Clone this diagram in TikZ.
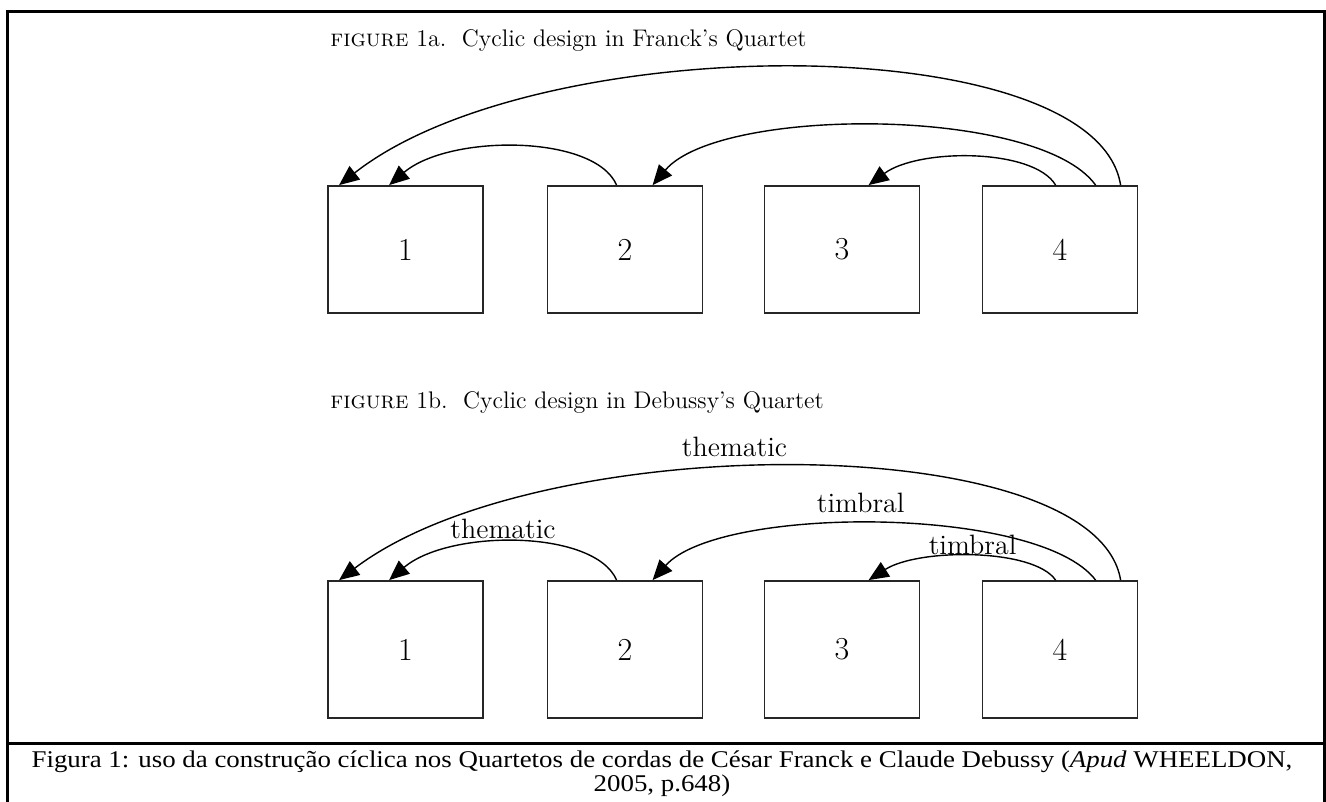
\documentclass[tikz,border=0pt]{standalone}
\usepackage{fontspec}
\newfontfamily\capfont[FakeStretch=1.12]{Liberation Serif}
\usetikzlibrary{calc,arrows.meta}

\begin{document}
\begin{tikzpicture}[
            x=0.5pt, y=-0.5pt,
            movement/.style={fill=white, draw=black!85, line width=0.9pt, inner sep=0pt, minimum width=77.5pt, minimum height=63.5pt, font=\fontsize{16}{16}\selectfont},
            tallmovement/.style={movement, minimum height=68.5pt},
            cyclic/.style={line width=0.7pt, -{Triangle[length=10pt,width=8.5pt]}},
            heading/.style={draw=none, text=black, anchor=base west, inner sep=0pt, font=\fontsize{12}{14}\selectfont},
            label/.style={draw=none, text=black, inner sep=1pt, font=\fontsize{14}{16}\selectfont},
            frame/.style={line width=1.5pt},
        ]
            \useasboundingbox (0,0) rectangle (1326,802);
            %% frame
            \draw[frame] (7,802) -- (7,12) -- (1324,12) -- (1324,802);
            \draw[frame] (7,743) -- (1324,743);

            %% figure 1a
            \node[heading] at (330,47) (title-a) {\textsc{figure} 1a.\ \ Cyclic design in Franck's Quartet};
            \node[movement] at (405.5, 249.5) (a1) {1};
            \node[movement] at (625, 249.5) (a2) {2};
            \node[movement] at (842, 249.5) (a3) {3};
            \node[movement] at (1060, 249.5) (a4) {4};
            \draw[cyclic] ($(a4.north west) + (139, 0)$) .. controls +(-25, -157) and +(200, -157) .. ($(a1.north west) + (12, 0)$);
            \draw[cyclic] ($(a2.north west) + (70, 0)$) .. controls +(-22, -51) and +(60, -51) .. ($(a1.north west) + (62, 0)$);
            \draw[cyclic] ($(a4.north west) + (114, 0)$) .. controls +(-57, -79) and +(67, -79) .. ($(a2.north west) + (106, 0)$);
            \draw[cyclic] ($(a4.north west) + (74, 0)$) .. controls +(-22, -37) and +(50, -37) .. ($(a3.north west) + (105, 0)$);

            %% figure 1b
            \node[heading] at (330,408) (title-b) {\textsc{figure} 1b.\ \ Cyclic design in Debussy's Quartet};
            \node[tallmovement] at (405.5, 649.5) (b1) {1};
            \node[tallmovement] at (625, 649.5) (b2) {2};
            \node[tallmovement] at (842, 649.5) (b3) {3};
            \node[tallmovement] at (1060, 649.5) (b4) {4};
            \draw[cyclic] ($(b4.north west) + (139, 0)$) .. controls +(-25, -152) and +(200, -152) .. node[label, above=4pt, pos=0.56] (thematic-41) {thematic} ($(b1.north west) + (12, 0)$);
            \draw[cyclic] ($(b2.north west) + (70, 0)$) .. controls +(-22, -51) and +(60, -51) .. node[label, above=0.5pt, pos=0.55] (thematic-21) {thematic} ($(b1.north west) + (62, 0)$);
            \draw[cyclic] ($(b4.north west) + (114, 0)$) .. controls +(-57, -75) and +(67, -75) .. node[label, above=4.5pt, pos=0.53] (timbral-42) {timbral} ($(b2.north west) + (106, 0)$);
            \draw[cyclic] ($(b4.north west) + (74, 0)$) .. controls +(-22, -32) and +(50, -32) .. node[label, above=-0.5pt, pos=0.5] (timbral-43) {timbral} ($(b3.north west) + (105, 0)$);

            %% caption
            \node[align=center, inner sep=0pt, font=\capfont\fontsize{12}{12}\selectfont] at (662, 774) (caption) {Figura 1: uso da constru\c{c}\~ao c\'iclica nos Quartetos de cordas de C\'esar Franck e Claude Debussy (\textit{Apud} WHEELDON,\\2005, p.648)};

        \end{tikzpicture}
\end{document}
